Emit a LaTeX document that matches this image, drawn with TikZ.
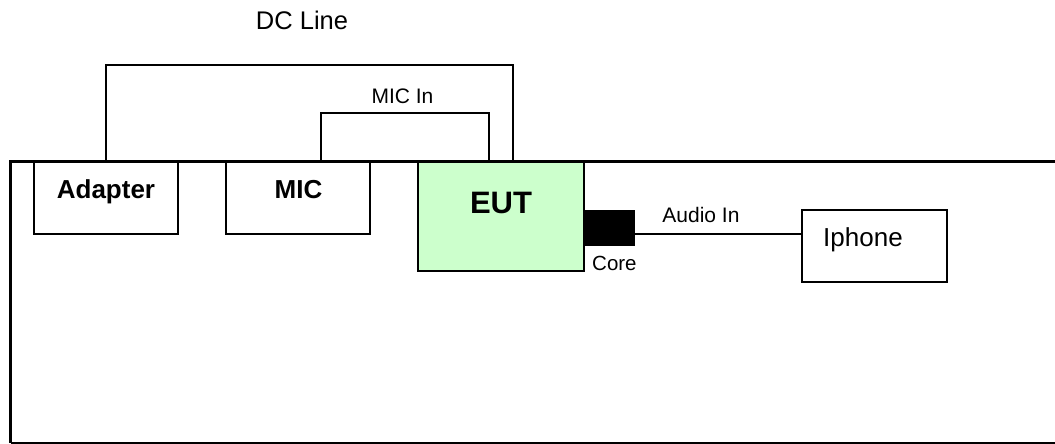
\documentclass[tikz,border=0pt]{standalone}
\usepackage{fontspec}
\setmainfont{Liberation Sans}
\definecolor{eutgreen}{HTML}{CCFFCC}
\tikzset{
  box/.style={draw=black, line width=2pt, fill=white, inner sep=0pt, rectangle},
  wire/.style={draw=black, line width=1.6pt},
  frame/.style={draw=black, line width=3pt},
  lbl/.style={inner sep=0pt, anchor=base},
  bigbold/.style={lbl, font=\fontsize{26pt}{30pt}\selectfont\bfseries},
  midtext/.style={lbl, font=\fontsize{21pt}{25pt}\selectfont},
}
\begin{document}
\begin{tikzpicture}[x=1pt, y=-1pt]
\useasboundingbox (0,0) rectangle (1055,444);
\clip (0,0) rectangle (1055,444);
% boxes
\node[box, minimum width=144pt, minimum height=73pt] (adapter) at (106,197.5) {};
\node[box, minimum width=144pt, minimum height=73pt] (mic) at (298,197.5) {};
\node[box, fill=eutgreen, minimum width=166pt, minimum height=110pt] (eut) at (501,216) {};
\node[draw=black, fill=black, line width=1pt, inner sep=0pt, minimum width=49pt, minimum height=35pt] (core) at (610,228) {};
\node[box, minimum width=145pt, minimum height=72pt] (iphone) at (874.5,246) {};
% connectors
\draw[wire] (adapter.north) -- ++(0,-95) -| ([xshift=96pt]eut.north west);
\draw[wire] ([xshift=96pt]mic.north west) -- ++(0,-47) -| ([xshift=72pt]eut.north west);
\draw[wire] ([yshift=-6pt]core.east) -- ([yshift=-6pt]core.east -| iphone.west);
% frame (table)
\coordinate (ftr) at (1070,161);
\coordinate (ftl) at (10.5,161);
\coordinate (fbl) at (10.5,443);
\coordinate (fbr) at (1070,443);
\draw[frame] (ftr) -- (ftl) -- (fbl);
\draw[black, line width=2.2pt] (fbl) -- (fbr);
\draw[frame, line width=3.2pt] ([yshift=-1.5pt]ftl) -- (fbl);
% labels
\node[lbl, font=\fontsize{25.5pt}{30pt}\selectfont] (dclbl) at (302,30) {DC Line};
\node[midtext] (micinlbl) at (402.5,103.3) {MIC In};
\node[bigbold] (adapterlbl) at (106,198) {Adapter};
\node[bigbold] (miclbl) at (298.5,198) {MIC};
\node[lbl, font=\fontsize{31pt}{36pt}\selectfont\bfseries] (eutlbl) at (501,213) {EUT};
\node[lbl, anchor=base west, font=\fontsize{20.5pt}{24pt}\selectfont] (corelbl) at (592,270.7) {Core};
\node[midtext] (audiolbl) at (701,222.7) {Audio In};
\node[lbl, anchor=base west, font=\fontsize{26pt}{30pt}\selectfont] (iphonelbl) at (823,246.5) {Iphone};
\end{tikzpicture}
\end{document}
